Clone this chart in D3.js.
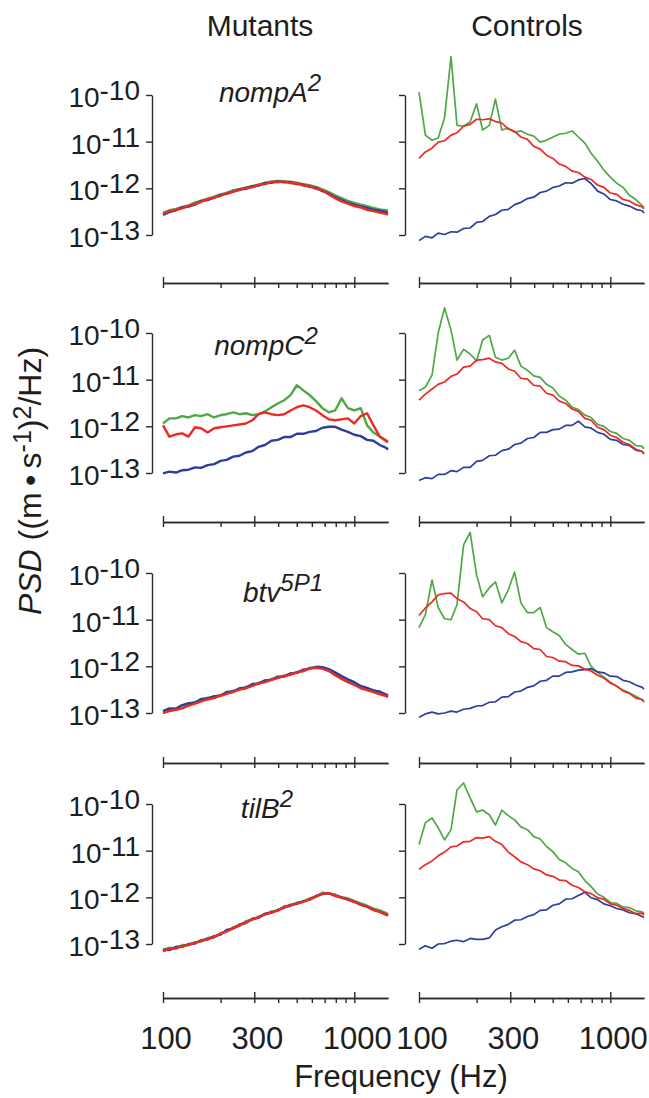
<!DOCTYPE html>
<html>
<head>
<meta charset="utf-8">
<script src="https://cdn.jsdelivr.net/npm/d3@7"></script>
<style>
body { margin: 0; background: #fff; }
svg text { font-family: "Liberation Sans", Arial, Helvetica, sans-serif; fill: #1e1e1e; }
</style>
</head>
<body>
<div id="chart"></div>
<script>
var W = 649, H = 1098;

// frequency grid (Hz), about 1/30 decade
var freqs = [100,108,117,126,136,147,158,171,185,200,
             215,233,251,271,293,316,341,369,398,430,
             464,501,541,584,631,681,736,794,858,926,
             1000,1080,1166,1259,1359,1468,1500];

// log10 PSD values ( _g green, _b blue, _r red )
// nompA2
var mutA_g = [-12.52,-12.47,-12.44,-12.40,-12.37,-12.30,-12.27,-12.22,-12.18,-12.13,
  -12.10,-12.04,-12.02,-11.98,-11.95,-11.92,-11.88,-11.86,-11.84,-11.85,
  -11.86,-11.88,-11.91,-11.93,-11.97,-12.02,-12.08,-12.15,-12.21,-12.27,
  -12.31,-12.35,-12.38,-12.42,-12.45,-12.47,-12.48];
var mutA_b = [-12.57,-12.51,-12.47,-12.41,-12.39,-12.35,-12.27,-12.25,-12.20,-12.14,
  -12.12,-12.07,-12.02,-12.01,-11.96,-11.94,-11.89,-11.88,-11.85,-11.87,
  -11.87,-11.91,-11.92,-11.97,-11.99,-12.06,-12.11,-12.19,-12.25,-12.31,
  -12.35,-12.39,-12.42,-12.46,-12.48,-12.51,-12.52];
var mutA_r = [-12.55,-12.49,-12.46,-12.43,-12.37,-12.34,-12.29,-12.23,-12.20,-12.16,
  -12.10,-12.07,-12.04,-11.99,-11.98,-11.92,-11.91,-11.86,-11.87,-11.85,
  -11.89,-11.89,-11.94,-11.95,-12.01,-12.04,-12.13,-12.21,-12.28,-12.33,
  -12.38,-12.41,-12.46,-12.49,-12.52,-12.55,-12.56];
var ctlA_g = [-9.94,-10.86,-10.97,-10.92,-10.49,-9.18,-10.65,-10.67,-10.58,-10.19,
  -10.75,-10.65,-10.09,-10.75,-10.71,-10.80,-10.77,-10.84,-10.88,-11.01,
  -10.97,-10.90,-10.84,-10.82,-10.77,-10.90,-11.03,-11.25,-11.42,-11.61,
  -11.76,-11.89,-11.98,-12.15,-12.24,-12.37,-12.41];
var ctlA_b = [-13.12,-13.03,-13.06,-12.96,-12.99,-12.93,-12.94,-12.86,-12.85,-12.73,
  -12.71,-12.60,-12.56,-12.47,-12.45,-12.35,-12.30,-12.22,-12.19,-12.09,
  -12.06,-11.98,-11.95,-11.88,-11.89,-11.82,-11.79,-11.90,-12.06,-12.12,
  -12.24,-12.27,-12.34,-12.38,-12.45,-12.48,-12.53];
var ctlA_r = [-11.36,-11.22,-11.14,-11.01,-10.98,-10.86,-10.81,-10.67,-10.63,-10.52,
  -10.53,-10.51,-10.57,-10.60,-10.73,-10.78,-10.90,-10.95,-11.10,-11.16,
  -11.29,-11.36,-11.48,-11.53,-11.63,-11.66,-11.76,-11.81,-11.93,-11.98,
  -12.10,-12.13,-12.24,-12.27,-12.35,-12.40,-12.44];

// nompC2
var mutC_g = [-11.94,-11.83,-11.83,-11.78,-11.81,-11.76,-11.78,-11.74,-11.81,-11.76,
  -11.74,-11.70,-11.74,-11.72,-11.76,-11.74,-11.68,-11.59,-11.51,-11.44,
  -11.33,-11.12,-11.23,-11.33,-11.46,-11.61,-11.70,-11.66,-11.40,-11.61,
  -11.66,-11.61,-11.98,-12.13,-12.22,-12.30,-12.32];
var mutC_b = [-13.01,-12.97,-12.99,-12.94,-12.93,-12.88,-12.89,-12.83,-12.81,-12.74,
  -12.72,-12.65,-12.63,-12.56,-12.53,-12.44,-12.40,-12.31,-12.29,-12.23,
  -12.23,-12.16,-12.16,-12.12,-12.10,-12.03,-12.01,-12.01,-12.07,-12.12,
  -12.18,-12.21,-12.29,-12.31,-12.40,-12.46,-12.50];
var mutC_r = [-11.98,-12.22,-12.17,-12.15,-12.22,-12.02,-12.04,-12.13,-12.04,-12.02,
  -12.00,-11.98,-11.96,-11.94,-11.87,-11.74,-11.70,-11.74,-11.76,-11.74,
  -11.66,-11.59,-11.55,-11.59,-11.66,-11.76,-11.85,-11.87,-11.85,-11.83,
  -11.94,-11.78,-11.72,-11.98,-12.22,-12.32,-12.34];
var ctlC_g = [-11.23,-11.16,-10.90,-10.00,-9.46,-9.94,-10.58,-10.35,-10.45,-10.60,
  -10.15,-10.05,-10.52,-10.58,-10.54,-10.37,-10.71,-10.80,-10.92,-10.95,
  -11.10,-11.18,-11.35,-11.44,-11.59,-11.64,-11.76,-11.81,-11.96,-12.00,
  -12.11,-12.15,-12.26,-12.30,-12.41,-12.43,-12.48];
var ctlC_b = [-13.16,-13.10,-13.12,-13.03,-13.03,-12.95,-12.97,-12.88,-12.88,-12.75,
  -12.73,-12.63,-12.62,-12.52,-12.49,-12.39,-12.36,-12.26,-12.24,-12.13,
  -12.13,-12.07,-12.06,-11.98,-11.98,-11.89,-12.01,-12.04,-12.13,-12.17,
  -12.28,-12.30,-12.39,-12.41,-12.51,-12.54,-12.59];
var ctlC_r = [-11.44,-11.31,-11.20,-11.10,-11.05,-10.93,-10.88,-10.73,-10.71,-10.58,
  -10.57,-10.54,-10.62,-10.65,-10.77,-10.82,-10.97,-10.99,-11.12,-11.14,
  -11.29,-11.33,-11.46,-11.51,-11.63,-11.68,-11.83,-11.87,-12.02,-12.07,
  -12.19,-12.24,-12.34,-12.39,-12.49,-12.54,-12.59];

// btv5P1
var mutB_g = [-12.97,-12.93,-12.90,-12.84,-12.82,-12.76,-12.73,-12.67,-12.66,-12.61,
  -12.58,-12.52,-12.50,-12.44,-12.41,-12.35,-12.33,-12.27,-12.24,-12.20,
  -12.17,-12.12,-12.10,-12.03,-12.03,-12.03,-12.08,-12.15,-12.25,-12.30,
  -12.37,-12.43,-12.48,-12.51,-12.56,-12.60,-12.62];
var mutB_b = [-12.96,-12.90,-12.91,-12.83,-12.79,-12.78,-12.70,-12.69,-12.64,-12.63,
  -12.55,-12.54,-12.47,-12.46,-12.38,-12.37,-12.30,-12.29,-12.22,-12.22,
  -12.15,-12.14,-12.07,-12.05,-12.01,-12.02,-12.06,-12.13,-12.21,-12.28,
  -12.34,-12.42,-12.46,-12.52,-12.54,-12.61,-12.63];
var mutB_r = [-13.00,-12.96,-12.93,-12.90,-12.84,-12.80,-12.75,-12.71,-12.68,-12.63,
  -12.59,-12.55,-12.50,-12.47,-12.42,-12.37,-12.34,-12.29,-12.25,-12.21,
  -12.18,-12.13,-12.10,-12.05,-12.03,-12.05,-12.10,-12.19,-12.27,-12.34,
  -12.40,-12.47,-12.51,-12.55,-12.60,-12.64,-12.66];
var ctlB_g = [-11.17,-10.89,-10.15,-10.74,-10.98,-11.00,-10.68,-9.40,-9.13,-10.04,
  -10.51,-10.32,-10.19,-10.64,-10.36,-9.98,-10.64,-10.85,-10.85,-10.74,
  -11.17,-11.26,-11.34,-11.53,-11.64,-11.74,-11.72,-12.00,-12.13,-12.23,
  -12.34,-12.43,-12.51,-12.57,-12.64,-12.72,-12.74];
var ctlB_b = [-13.09,-13.02,-12.98,-13.02,-13.00,-12.96,-12.98,-12.92,-12.90,-12.85,
  -12.84,-12.77,-12.76,-12.66,-12.65,-12.55,-12.53,-12.45,-12.42,-12.32,
  -12.30,-12.21,-12.21,-12.13,-12.12,-12.08,-12.07,-12.05,-12.12,-12.14,
  -12.21,-12.22,-12.30,-12.33,-12.40,-12.45,-12.49];
var ctlB_r = [-10.91,-10.75,-10.62,-10.47,-10.44,-10.43,-10.55,-10.62,-10.76,-10.83,
  -10.98,-11.00,-11.13,-11.17,-11.30,-11.36,-11.47,-11.51,-11.62,-11.64,
  -11.79,-11.81,-11.89,-11.90,-11.98,-11.99,-12.06,-12.10,-12.19,-12.25,
  -12.36,-12.42,-12.53,-12.58,-12.68,-12.71,-12.77];

// tilB2
var mutT_g = [-13.13,-13.08,-13.10,-13.02,-13.03,-12.96,-12.95,-12.87,-12.86,-12.77,
  -12.73,-12.64,-12.61,-12.51,-12.48,-12.41,-12.37,-12.30,-12.29,-12.19,
  -12.18,-12.11,-12.10,-12.02,-11.99,-11.90,-11.92,-11.94,-12.00,-12.02,
  -12.08,-12.13,-12.18,-12.24,-12.28,-12.34,-12.36];
var mutT_b = [-13.12,-13.13,-13.06,-13.06,-13.00,-12.99,-12.92,-12.90,-12.83,-12.80,
  -12.70,-12.67,-12.58,-12.55,-12.46,-12.44,-12.35,-12.33,-12.27,-12.22,
  -12.16,-12.14,-12.08,-12.05,-11.97,-11.93,-11.91,-11.97,-12.00,-12.05,
  -12.09,-12.16,-12.20,-12.27,-12.31,-12.37,-12.39];
var mutT_r = [-13.16,-13.10,-13.09,-13.05,-13.01,-12.98,-12.93,-12.90,-12.85,-12.78,
  -12.73,-12.66,-12.60,-12.54,-12.47,-12.43,-12.36,-12.33,-12.28,-12.21,
  -12.18,-12.13,-12.09,-12.05,-11.98,-11.92,-11.91,-11.97,-12.01,-12.05,
  -12.10,-12.16,-12.20,-12.27,-12.31,-12.37,-12.39];
var ctlT_g = [-10.87,-10.40,-10.30,-10.51,-10.77,-10.55,-9.70,-9.55,-9.87,-10.17,
  -10.13,-10.23,-10.45,-10.13,-10.25,-10.34,-10.49,-10.55,-10.70,-10.75,
  -10.91,-11.02,-11.19,-11.26,-11.38,-11.45,-11.64,-11.77,-11.93,-12.00,
  -12.11,-12.13,-12.21,-12.22,-12.29,-12.31,-12.35];
var ctlT_b = [-13.11,-13.04,-13.09,-13.00,-12.99,-12.94,-12.92,-12.95,-12.88,-12.90,
  -12.90,-12.87,-12.70,-12.63,-12.58,-12.49,-12.48,-12.41,-12.37,-12.28,
  -12.27,-12.17,-12.14,-12.04,-12.03,-11.96,-11.89,-12.01,-12.05,-12.14,
  -12.18,-12.24,-12.27,-12.33,-12.35,-12.41,-12.43];
var ctlT_r = [-11.40,-11.30,-11.22,-11.11,-11.03,-10.92,-10.90,-10.81,-10.80,-10.72,
  -10.73,-10.70,-10.80,-10.87,-11.03,-11.13,-11.24,-11.30,-11.39,-11.43,
  -11.52,-11.55,-11.63,-11.64,-11.74,-11.79,-11.88,-11.92,-12.01,-12.04,
  -12.14,-12.17,-12.24,-12.28,-12.35,-12.34,-12.38];

var genotypes = ["nompA", "nompC", "btv", "tilB"];
var alleles = ["2", "2", "5P1", "2"];
var columnTitles = ["Mutants", "Controls"];
var yTickExp = [-10, -11, -12, -13];
var xMajor = [100, 300, 1000];
var xMinor = [200, 400, 500, 600, 700, 800, 900];

var seriesColors = ["#4fa845", "#2c3f9f", "#ec2a22"]; // green, blue, red

var rows = [
  { mut: [mutA_g, mutA_b, mutA_r], ctl: [ctlA_g, ctlA_b, ctlA_r] },
  { mut: [mutC_g, mutC_b, mutC_r], ctl: [ctlC_g, ctlC_b, ctlC_r] },
  { mut: [mutB_g, mutB_b, mutB_r], ctl: [ctlB_g, ctlB_b, ctlB_r] },
  { mut: [mutT_g, mutT_b, mutT_r], ctl: [ctlT_g, ctlT_b, ctlT_r] }
];

// layout
var colX = [163, 419], panelW = 225, panelH = 140;
var yAxisGap = [11, 14];
var rowTop = [95, 333, 573, 804];
var xAxisY = [283, 522, 763, 998];
var titleX = [270, 266, 283, 267];
var titleY = [102, 355, 602, 818];
var ink = "#2a2a2a";

var svg = d3.select("#chart").append("svg")
    .attr("width", W).attr("height", H);

var x = d3.scaleLog().domain([100, 1500]).range([0, panelW]);
var y = d3.scaleLog().domain([1e-13, 1e-10]).range([panelH, 0]);

var line = d3.line()
    .x((d, i) => x(freqs[i]))
    .y(d => y(Math.pow(10, d)));

function styleAxis(sel) {
    sel.selectAll("path, line").attr("stroke", ink).attr("stroke-width", 1.4);
}

rows.forEach(function (row, r) {
    [row.mut, row.ctl].forEach(function (series, c) {
        var g = svg.append("g")
            .attr("transform", `translate(${colX[c]},${rowTop[r]})`);

        // y axis (bracket-like)
        g.append("g")
            .attr("transform", `translate(${-yAxisGap[c]},0)`)
            .call(d3.axisLeft(y).tickValues(yTickExp.map(e => Math.pow(10, e)))
                .tickSize(6).tickSizeOuter(0).tickFormat(""))
            .call(styleAxis);

        if (c === 0) {
            yTickExp.forEach(function (e) {
                var t = g.append("text")
                    .attr("x", -yAxisGap[c] - 12)
                    .attr("y", y(Math.pow(10, e)) + 12)
                    .attr("text-anchor", "end")
                    .attr("font-size", 28)
                    .text("10");
                t.append("tspan").attr("dy", -7).attr("font-size", 28).text(String(e));
            });
        }

        // x axis
        var ax = g.append("g").attr("transform", `translate(0,${xAxisY[r] - rowTop[r]})`);
        ax.append("g")
            .call(d3.axisBottom(x).tickValues(xMajor.concat(xMinor))
                .tickSize(5).tickSizeOuter(0).tickFormat(""))
            .call(styleAxis);
        ax.append("g")
            .call(d3.axisTop(x).tickValues(xMajor)
                .tickSize(6).tickSizeOuter(0).tickFormat(""))
            .call(styleAxis);

        if (r === rows.length - 1) {
            ax.selectAll("text.xlab")
                .data(xMajor)
                .enter().append("text")
                .attr("class", "xlab")
                .attr("x", d => x(d) + 3)
                .attr("y", 51)
                .attr("text-anchor", "middle")
                .attr("font-size", 31)
                .text(d => d);
        }

        // spectra
        g.selectAll("path.psd")
            .data(series)
            .enter().append("path")
            .attr("class", "psd")
            .attr("d", line)
            .attr("fill", "none")
            .attr("stroke", (d, i) => seriesColors[i])
            .attr("stroke-width", c === 0 ? 2.4 : 1.7)
            .attr("stroke-linejoin", "round");
    });

    // genotype title
    var t = svg.append("text")
        .attr("x", titleX[r]).attr("y", titleY[r])
        .attr("text-anchor", "middle")
        .attr("font-size", 28)
        .attr("font-style", "italic")
        .text(genotypes[r]);
    t.append("tspan").attr("dy", -11).attr("font-size", 24).text(alleles[r]);
});

// column titles
svg.selectAll("text.coltitle")
    .data(columnTitles)
    .enter().append("text")
    .attr("class", "coltitle")
    .attr("x", (d, i) => [260, 527][i])
    .attr("y", 36)
    .attr("text-anchor", "middle")
    .attr("font-size", 30)
    .text(d => d);

// x axis title
svg.append("text")
    .attr("x", 401).attr("y", 1087)
    .attr("text-anchor", "middle")
    .attr("font-size", 31)
    .text("Frequency (Hz)");

// y axis title
var yl = svg.append("text")
    .attr("transform", "translate(41,481) rotate(-90)")
    .attr("text-anchor", "middle")
    .attr("font-size", 32);
yl.append("tspan").attr("font-style", "italic").text("PSD");
yl.append("tspan").text(" ((m\u2009\u2022\u2009s");
yl.append("tspan").attr("dy", -10).attr("font-size", 25).text("-1");
yl.append("tspan").attr("dy", 10).text(")");
yl.append("tspan").attr("dy", -10).attr("font-size", 25).text("2");
yl.append("tspan").attr("dy", 10).text("/Hz)");
</script>
</body>
</html>
